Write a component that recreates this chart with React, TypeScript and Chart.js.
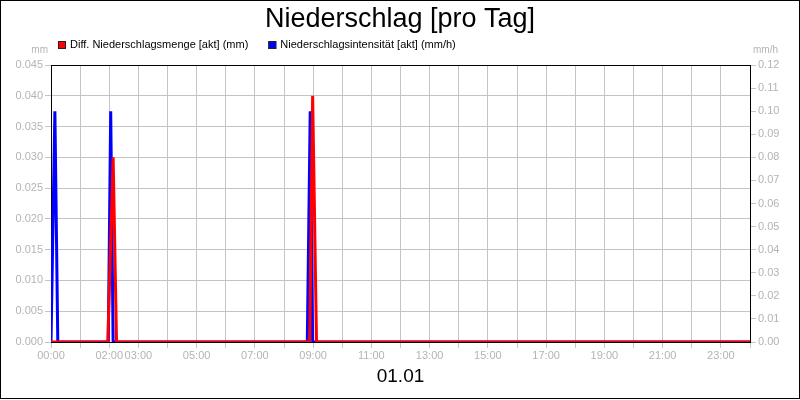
import React, { useEffect, useRef } from "react";
import { Chart, registerables } from "chart.js";

Chart.register(...registerables);

const chartTitle = "Niederschlag [pro Tag]";
const dayLabel = "01.01";
const seriesLabels = [
    "Diff. Niederschlagsmenge [akt] (mm)",
    "Niederschlagsintensität [akt] (mm/h)",
];
// x values are minutes after midnight
const mengeTimes = [0, 117, 128, 135, 533, 539, 547, 1440];
const mengeValues = [0, 0, 0.03, 0, 0, 0.04, 0, 0];
const intensTimes = [0, 2, 8, 14, 118, 123, 128, 528, 534, 539, 1440];
const intensValues = [0, 0, 0.1, 0, 0, 0.1, 0, 0, 0.1, 0, 0];
const hourLabels = [
    "00:00", "02:00", "03:00", "05:00", "07:00", "09:00", "11:00",
    "13:00", "15:00", "17:00", "19:00", "21:00", "23:00",
];
const leftUnit = "mm";
const rightUnit = "mm/h";

const FONT = "'Liberation Sans', Arial, sans-serif";
const GRAY = "#b4b4b4";
const GRID = "#c4c4c4";

const fmtTime = (m: number) => {
    const h = Math.floor(m / 60);
    return `${String(h).padStart(2, "0")}:00`;
};

const framePlugin = {
    id: "frame",
    afterDraw(chart: any) {
        const { ctx, chartArea: a } = chart;
        ctx.save();
        ctx.strokeStyle = "#000";
        ctx.lineWidth = 1;
        ctx.beginPath();
        ctx.moveTo(a.left, Math.round(a.top) + 0.5);
        ctx.lineTo(a.right, Math.round(a.top) + 0.5);
        ctx.stroke();
        ctx.strokeRect(0.5, 0.5, chart.width - 1, chart.height - 2);

        // axis units
        ctx.font = `10px ${FONT}`;
        ctx.fillStyle = GRAY;
        ctx.textBaseline = "middle";
        ctx.textAlign = "right";
        ctx.fillText(leftUnit, a.left - 3, a.top - 15);
        ctx.textAlign = "left";
        ctx.fillText(rightUnit, a.right + 3, a.top - 15);

        // legend
        ctx.font = `11px ${FONT}`;
        let x = 58;
        chart.data.datasets.forEach((ds: any) => {
            ctx.fillStyle = ds.borderColor;
            ctx.fillRect(x, 41, 8, 8);
            ctx.strokeStyle = "#222";
            ctx.strokeRect(x + 0.5, 41.5, 7, 7);
            ctx.fillStyle = "#000";
            ctx.textAlign = "left";
            ctx.fillText(ds.label, x + 12, 45);
            x += 12 + ctx.measureText(ds.label).width + 20;
        });
        ctx.restore();
    },
};

export default function App() {
    const ref = useRef<HTMLCanvasElement | null>(null);

    useEffect(() => {
        if (!ref.current) return;

        const chart = new Chart(ref.current, {
            type: "line",
            data: {
                datasets: [
                    {
                        label: seriesLabels[0],
                        data: mengeTimes.map((t, i) => ({ x: t, y: mengeValues[i] })),
                        borderColor: "#ff0000",
                        backgroundColor: "#ff0000",
                        borderWidth: 3,
                        pointRadius: 0,
                        tension: 0,
                        yAxisID: "y",
                    },
                    {
                        label: seriesLabels[1],
                        data: intensTimes.map((t, i) => ({ x: t, y: intensValues[i] })),
                        borderColor: "#0000ff",
                        backgroundColor: "#0000ff",
                        borderWidth: 3,
                        pointRadius: 0,
                        tension: 0,
                        yAxisID: "y1",
                    },
                ],
            },
            options: {
                responsive: false,
                animation: false,
                devicePixelRatio: 1,
                layout: { padding: 0 },
                font: { family: FONT },
                plugins: {
                    legend: { display: false },
                    tooltip: { enabled: false },
                    title: {
                        display: true,
                        text: chartTitle,
                        color: "#000",
                        font: { size: 27, weight: "normal", family: FONT },
                        padding: { top: 3, bottom: 29.6 },
                    },
                },
                scales: {
                    x: {
                        type: "linear",
                        min: 0,
                        max: 1440,
                        afterFit: (s: any) => {
                            s.height = 58;
                        },
                        grid: { color: GRID, tickLength: 6, tickColor: GRID },
                        border: { color: "#000", width: 1 },
                        ticks: {
                            stepSize: 60,
                            autoSkip: false,
                            maxRotation: 0,
                            padding: 1,
                            color: GRAY,
                            font: { size: 11, family: FONT },
                            callback: (v: any) => {
                                const s = fmtTime(Number(v));
                                return hourLabels.includes(s) ? s : "";
                            },
                        },
                        title: {
                            display: true,
                            text: dayLabel,
                            color: "#000",
                            font: { size: 19, family: FONT },
                            padding: { top: 0, bottom: 12 },
                        },
                    },
                    y: {
                        position: "left",
                        min: 0,
                        max: 0.045,
                        afterFit: (s: any) => {
                            s.width = 51;
                        },
                        grid: { color: GRID, tickLength: 6, tickColor: GRID },
                        border: { color: "#000", width: 1 },
                        ticks: {
                            stepSize: 0.005,
                            padding: 2,
                            color: GRAY,
                            font: { size: 11, family: FONT },
                            callback: (v: any) => Number(v).toFixed(3),
                        },
                    },
                    y1: {
                        position: "right",
                        min: 0,
                        max: 0.12,
                        afterFit: (s: any) => {
                            s.width = 50;
                        },
                        grid: { drawOnChartArea: false, tickLength: 6, tickColor: GRID },
                        border: { color: "#000", width: 1 },
                        ticks: {
                            stepSize: 0.01,
                            padding: 2,
                            color: GRAY,
                            font: { size: 11, family: FONT },
                            callback: (v: any) => Number(v).toFixed(2),
                        },
                    },
                },
            },
            plugins: [framePlugin],
        });

        return () => chart.destroy();
    }, []);

    return (
        <div style={{ position: "absolute", left: 0, top: 0, width: 800, height: 400, background: "#fff" }}>
            <canvas ref={ref} width={800} height={400} />
        </div>
    );
}
